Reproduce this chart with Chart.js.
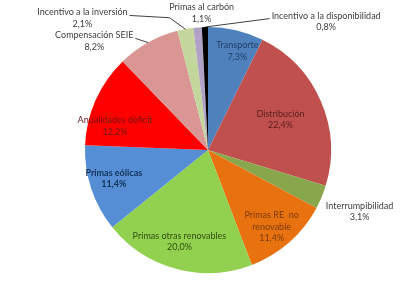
<!DOCTYPE html>
<html>
<head>
<meta charset="utf-8">
<script src="https://cdn.jsdelivr.net/npm/chart.js@4"></script>
<style>
  html, body { margin: 0; padding: 0; background: #fff; }
  #wrap { width: 410px; height: 292px; }
</style>
</head>
<body>
<div id="wrap"><canvas id="pie" width="410" height="292"></canvas></div>
<script>
// Chart data
var categories = [
    'Transporte', 'Distribución', 'Interrumpibilidad', 'Primas RE  no renovable',
    'Primas otras renovables', 'Primas eólicas', 'Anualidades déficit', 'Compensación SEIE',
    'Incentivo a la inversión', 'Primas al carbón', 'Incentivo a la disponibilidad'
];
var shares = [7.3, 22.4, 3.1, 11.4, 20.0, 11.4, 12.2, 8.2, 2.1, 1.1, 0.8];
// how each label's name is split over lines
var labelLines = [
    ['Transporte'], ['Distribución'], ['Interrumpibilidad'], ['Primas RE  no', 'renovable'],
    ['Primas otras renovables'], ['Primas eólicas'], ['Anualidades déficit'], ['Compensación SEIE'],
    ['Incentivo a la inversión'], ['Primas al carbón'], ['Incentivo a la disponibilidad']
];

var sliceColors = ['#4F81BD', '#C0504D', '#88A64B', '#E8720F', '#92D050', '#558ED5',
                   '#FF0000', '#D99694', '#C3D69B', '#B3A2C7', '#000000'];
var textColors = ['#1F3F66', '#5A1F1E', '#404040', '#7F3A05', '#2F4F10', '#13325A',
                  '#6E1212', '#404040', '#404040', '#404040', '#404040'];
// label placement relative to the slice: angle offset (deg) and radius factor
var labelPlace = [
    { a: 3.4, r: 0.84 }, { a: 0.6, r: 0.64 }, { a: -0.4, r: 1.33 }, { a: 1.7, r: 0.81 },
    { a: 2.2, r: 0.78 }, { a: 1.6, r: 0.80, bold: true }, { a: -9.8, r: 0.78 },
    { a: -17.1, r: 1.28, leader: 'right' },
    { a: -33, r: 1.48, leader: 'right', elbow: { a: -5.6, r: 1.12 } },
    { a: 2.2, r: 1.115 }, { a: 44, r: 1.42, leader: 'left' }
];

function fmt(v) {
    return v.toFixed(1).replace('.', ',') + '%';
}

// Draw the slice labels and leader lines
var sliceLabels = {
    id: 'sliceLabels',
    afterDatasetsDraw: function(chart) {
        var ctx = chart.ctx;
        var arcs = chart.getDatasetMeta(0).data;
        var lineH = 11.5;
        ctx.save();
        ctx.textAlign = 'center';
        ctx.textBaseline = 'middle';
        arcs.forEach(function(arc, i) {
            var p = labelPlace[i];
            var mid = (arc.startAngle + arc.endAngle) / 2;
            var th = mid + p.a * Math.PI / 180;
            var R = arc.outerRadius;
            var cx = arc.x + Math.cos(th) * R * p.r;
            var cy = arc.y + Math.sin(th) * R * p.r;
            var lines = labelLines[i].concat([fmt(shares[i])]);
            ctx.font = (p.bold ? 'bold ' : '') + '9px Lato';
            ctx.fillStyle = textColors[i];
            var y0 = cy - (lines.length - 1) * lineH / 2;
            lines.forEach(function(t, k) {
                ctx.fillText(t, cx, y0 + k * lineH);
            });
            if (p.leader) {
                var w = ctx.measureText(lines[0]).width;
                var sx = p.leader === 'right' ? cx + w / 2 + 2 : cx - w / 2 - 2;
                var sy = y0 + 3;
                var ex = arc.x + Math.cos(mid) * R;
                var ey = arc.y + Math.sin(mid) * R;
                ctx.strokeStyle = '#404040';
                ctx.lineWidth = 1;
                ctx.beginPath();
                ctx.moveTo(sx, sy);
                if (p.elbow) {
                    var eth = mid + p.elbow.a * Math.PI / 180;
                    ctx.lineTo(arc.x + Math.cos(eth) * R * p.elbow.r,
                               arc.y + Math.sin(eth) * R * p.elbow.r);
                }
                ctx.lineTo(ex, ey);
                ctx.stroke();
            }
        });
        ctx.restore();
    }
};

var chart = new Chart(document.getElementById('pie').getContext('2d'), {
    type: 'pie',
    data: {
        labels: categories,
        datasets: [{
            data: shares,
            backgroundColor: sliceColors,
            borderWidth: 0
        }]
    },
    options: {
        responsive: false,
        animation: false,
        layout: { padding: { top: 27, bottom: 19, left: 85, right: 79 } },
        plugins: {
            legend: { display: false },
            tooltip: { enabled: false }
        }
    },
    plugins: [sliceLabels]
});
</script>
</body>
</html>
